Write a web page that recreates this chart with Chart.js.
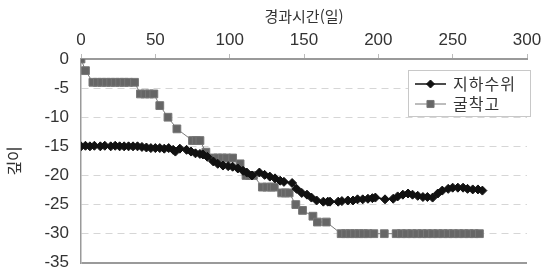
<!DOCTYPE html>
<html lang="ko">
<head>
<meta charset="UTF-8" />
<title>깊이 - 경과시간</title>
<script src="https://cdn.jsdelivr.net/npm/chart.js"></script>
<style>
  html, body { margin: 0; padding: 0; background: #fff; }
  #wrap { width: 556px; height: 273px; }
</style>
</head>
<body>
<div id="wrap"><canvas id="depthChart" width="556" height="273"></canvas></div>
<script>
// 지하수위 (groundwater level)
const gwDays = [0, 3, 6, 9, 13, 16, 20, 23, 26, 29, 32, 35, 38, 41, 44, 47, 50, 53, 56, 59, 62, 63.5, 66.5,
  71, 74, 77, 80, 82, 85, 89, 92, 95.5, 99, 102, 105.5, 109, 111.5, 115, 120, 123.5, 127, 130.5, 134, 136.5,
  142, 145, 148.5, 152, 155, 158.5, 163, 166, 167.5, 173, 175.5, 179.5, 183, 186, 189.5, 193, 196, 198,
  204.5, 210, 213, 216.5, 220, 223, 226.5, 230, 233, 236.5, 240, 243, 247, 250, 253.5, 257, 260, 263.5, 267, 270];
const gwLevel = [-15.0, -14.9, -15.0, -14.9, -15.0, -14.9, -15.0, -14.9, -15.0, -15.0, -15.0, -15.0, -15.0, -15.1, -15.2, -15.3, -15.3, -15.3, -15.4, -15.3, -15.6, -15.9, -15.4,
  -15.6, -15.9, -16.2, -16.3, -16.4, -16.8, -17.6, -18.0, -18.3, -18.4, -18.5, -18.8, -19.2, -19.5, -20.0, -19.5, -19.9, -20.2, -20.5, -20.9, -21.1,
  -21.3, -22.3, -23.0, -23.3, -23.8, -24.3, -24.5, -24.5, -24.5, -24.5, -24.4, -24.3, -24.3, -24.1, -24.1, -24.0, -23.9, -23.8,
  -24.1, -24.0, -23.6, -23.3, -23.1, -23.3, -23.5, -23.7, -23.7, -23.8, -23.1, -22.6, -22.3, -22.1, -22.1, -22.1, -22.3, -22.4, -22.4, -22.6];

// 굴착고 (excavation level)
const excDays = [0, 3, 8, 11, 14, 17, 20, 23, 26, 29, 32, 36, 40, 43, 46, 49, 53, 58.5, 64.5,
  75, 77.5, 80, 84, 89, 92, 95, 98, 102, 107, 111, 113.5, 116, 122, 125, 128, 130, 135, 137.5, 140,
  144.5, 149, 156, 159, 165, 175, 178, 181, 184, 187, 190, 193, 197, 204,
  212, 215.5, 219, 222.5, 226, 229.5, 233, 236.5, 240, 243.5, 247, 250.5, 254, 257.5, 261, 264.5, 268];
const excLevel = [0, -2, -4, -4, -4, -4, -4, -4, -4, -4, -4, -4, -6, -6, -6, -6, -8, -10, -12,
  -14, -14, -14, -16, -17, -17, -17, -17, -17, -18, -20, -20, -20, -22, -22, -22, -22, -23, -23, -23,
  -25, -26, -27, -28, -28, -30, -30, -30, -30, -30, -30, -30, -30, -30,
  -30, -30, -30, -30, -30, -30, -30, -30, -30, -30, -30, -30, -30, -30, -30, -30, -30];

const seriesNames = ['지하수위', '굴착고'];
const xTitle = '경과시간(일)';
const yTitle = '깊이';

const toPoints = (xs, ys) => xs.map((x, i) => ({ x: x, y: ys[i] }));

const FONT = '"Noto Sans CJK KR", "Noto Sans", sans-serif';
const NUMFONT = '"Liberation Sans", Arial, sans-serif';
const TEXT = '#333';
const AXIS = '#9a9a9a';

// legend drawn inside the plot, top right, with a light frame
const insideLegend = {
  id: 'insideLegend',
  afterDraw(chart) {
    const ctx = chart.ctx;
    const box = { left: 408, top: 70, right: 531, bottom: 117 };
    ctx.save();
    ctx.fillStyle = '#fff';
    ctx.strokeStyle = '#c8c8c8';
    ctx.lineWidth = 1;
    ctx.fillRect(box.left, box.top, box.right - box.left, box.bottom - box.top);
    ctx.strokeRect(box.left + 0.5, box.top + 0.5, box.right - box.left - 1, box.bottom - box.top - 1);
    const rows = [box.top + 14, box.top + 34];
    chart.data.datasets.forEach((ds, i) => {
      const y = rows[i];
      ctx.strokeStyle = ds.borderColor;
      ctx.lineWidth = ds.borderWidth;
      ctx.beginPath();
      ctx.moveTo(415, y);
      ctx.lineTo(446, y);
      ctx.stroke();
      ctx.fillStyle = ds.pointBackgroundColor;
      ctx.strokeStyle = ds.pointBorderColor;
      ctx.lineWidth = 1;
      Chart.helpers.drawPoint(ctx, { pointStyle: ds.pointStyle, radius: ds.pointRadius - 0.5, rotation: 0, borderWidth: 1 }, 430.5, y);
      ctx.fillStyle = TEXT;
      ctx.font = '16px ' + FONT;
      ctx.letterSpacing = '1px';
      ctx.textBaseline = 'middle';
      ctx.textAlign = 'left';
      ctx.fillText(ds.label, 453, y);
      ctx.letterSpacing = '0px';
    });
    ctx.restore();
  }
};

new Chart(document.getElementById('depthChart'), {
  type: 'line',
  data: {
    datasets: [
      {
        label: seriesNames[0],
        data: toPoints(gwDays, gwLevel),
        borderColor: '#111',
        borderWidth: 1.5,
        pointStyle: 'rectRot',
        pointRadius: 4.5,
        pointBackgroundColor: '#111',
        pointBorderColor: '#111',
        pointBorderWidth: 1,
        tension: 0,
        order: 1
      },
      {
        label: seriesNames[1],
        data: toPoints(excDays, excLevel),
        borderColor: '#7a7a7a',
        borderWidth: 1,
        pointStyle: 'rect',
        pointRadius: 5.5,
        pointBackgroundColor: '#666',
        pointBorderColor: '#777',
        pointBorderWidth: 1,
        tension: 0,
        order: 2
      }
    ]
  },
  options: {
    responsive: false,
    animation: false,
    layout: { padding: { left: 0, top: 0, right: 29, bottom: 0 } },
    plugins: { legend: { display: false }, tooltip: { enabled: false } },
    scales: {
      x: {
        type: 'linear',
        position: 'top',
        min: 0,
        max: 300,
        ticks: { stepSize: 50, color: TEXT, font: { family: NUMFONT, size: 17 }, padding: 3, maxRotation: 0 },
        grid: { drawOnChartArea: false, drawTicks: true, tickLength: 5, tickColor: '#bbb' },
        border: { color: AXIS, width: 2 },
        title: { display: true, text: xTitle, color: TEXT, font: { family: FONT, size: 15 }, padding: { top: 7, bottom: 0 } },
        afterFit: s => { s.height = 59; }
      },
      y: {
        min: -35,
        max: 0,
        ticks: { stepSize: 5, color: TEXT, font: { family: NUMFONT, size: 17 }, padding: 0 },
        grid: {
          drawTicks: true,
          tickLength: 12,
          tickColor: 'rgba(0,0,0,0)',
          color: c => c.tick && c.tick.value === 0 ? 'rgba(0,0,0,0)' : (c.tick && c.tick.value === -35 ? AXIS : '#d6d6d6'),
          lineWidth: c => c.tick && c.tick.value === -35 ? 2 : 1
        },
        border: { color: AXIS, width: 1.5, dash: c => c.tick && c.tick.value === -35 ? [] : [7, 5] },
        title: { display: true, text: yTitle, color: TEXT, font: { family: FONT, size: 16 }, padding: { top: 4, bottom: 0 } },
        afterFit: s => { s.width = 81; }
      }
    }
  },
  plugins: [insideLegend]
});
</script>
</body>
</html>
